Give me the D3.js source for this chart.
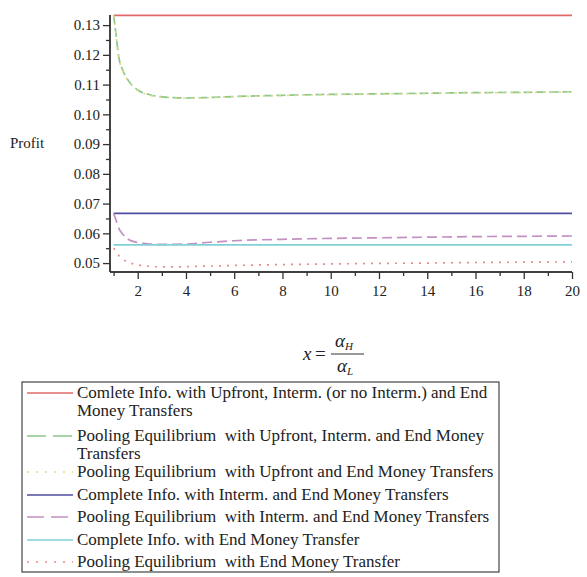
<!DOCTYPE html>
<html>
<head>
<meta charset="utf-8">
<script src="https://cdn.jsdelivr.net/npm/d3@7/dist/d3.min.js"></script>
<style>
  html, body { margin: 0; padding: 0; background: #fff; }
  svg { display: block; }
  text { font-family: "Liberation Serif", "Times New Roman", serif; fill: #222; }
</style>
</head>
<body>
<script>
// ---- data ----
const xs = [1, 1.1, 1.2, 1.4, 1.6, 2, 2.5, 3, 3.5, 4, 5, 6, 8, 10, 12, 14, 16, 18, 20];
const completeUpfrontIntermEnd = [0.1333, 0.1333, 0.1333, 0.1333, 0.1333, 0.1333, 0.1333, 0.1333, 0.1333, 0.1333, 0.1333, 0.1333, 0.1333, 0.1333, 0.1333, 0.1333, 0.1333, 0.1333, 0.1333];
const poolingUpfrontIntermEnd = [0.1333, 0.1270, 0.1200, 0.1145, 0.1115, 0.1082, 0.1066, 0.1059, 0.1056, 0.1055, 0.1057, 0.1060, 0.1064, 0.1067, 0.1069, 0.1071, 0.1073, 0.1074, 0.1076];
const poolingUpfrontEnd = [0.1333, 0.1268, 0.1198, 0.1143, 0.1113, 0.1080, 0.1064, 0.1058, 0.1055, 0.1054, 0.1056, 0.1059, 0.1063, 0.1066, 0.1068, 0.1070, 0.1072, 0.1073, 0.1075];
const completeIntermEnd = [0.0667, 0.0667, 0.0667, 0.0667, 0.0667, 0.0667, 0.0667, 0.0667, 0.0667, 0.0667, 0.0667, 0.0667, 0.0667, 0.0667, 0.0667, 0.0667, 0.0667, 0.0667, 0.0667];
const poolingIntermEnd = [0.0667, 0.0645, 0.0620, 0.0595, 0.0580, 0.0569, 0.0564, 0.0563, 0.0563, 0.0564, 0.0570, 0.0575, 0.0580, 0.0583, 0.0585, 0.0587, 0.0589, 0.0590, 0.0591];
const completeEnd = [0.0561, 0.0561, 0.0561, 0.0561, 0.0561, 0.0561, 0.0561, 0.0561, 0.0561, 0.0561, 0.0561, 0.0561, 0.0561, 0.0561, 0.0561, 0.0561, 0.0561, 0.0561, 0.0561];
const poolingEnd = [0.0550, 0.0540, 0.0527, 0.0512, 0.0503, 0.0494, 0.0489, 0.0487, 0.0487, 0.0488, 0.0490, 0.0492, 0.0495, 0.0497, 0.0499, 0.0500, 0.0502, 0.0503, 0.0504];

const yTicks = [0.05, 0.06, 0.07, 0.08, 0.09, 0.10, 0.11, 0.12, 0.13];
const yTickLabels = ["0.05", "0.06", "0.07", "0.08", "0.09", "0.10", "0.11", "0.12", "0.13"];
const xTicks = [2, 4, 6, 8, 10, 12, 14, 16, 18, 20];
const xMinorTicks = [1, 3, 5, 7, 9, 11, 13, 15, 17, 19];
const yMinorTicks = [0.055, 0.065, 0.075, 0.085, 0.095, 0.105, 0.115, 0.125];

const legendLabels = [
  ["Comlete Info. with Upfront, Interm. (or no Interm.) and End", "Money Transfers"],
  ["Pooling Equilibrium  with Upfront, Interm. and End Money", "Transfers"],
  ["Pooling Equilibrium  with Upfront and End Money Transfers"],
  ["Complete Info. with Interm. and End Money Transfers"],
  ["Pooling Equilibrium  with Interm. and End Money Transfers"],
  ["Complete Info. with End Money Transfer"],
  ["Pooling Equilibrium  with End Money Transfer"]
];

const series = [
  {values: completeUpfrontIntermEnd, color: "#e06a6a", dash: null, legDash: null},
  {values: poolingUpfrontIntermEnd, color: "#8cc88c", dash: "9,4", legDash: "19,7"},
  {values: poolingUpfrontEnd, color: "#e2dc84", dash: "2,6", legDash: "2,7"},
  {values: completeIntermEnd, color: "#4e4ea2", dash: null, legDash: null},
  {values: poolingIntermEnd, color: "#c490c4", dash: "10,5", legDash: "17,7"},
  {values: completeEnd, color: "#80d0d8", dash: null, legDash: null},
  {values: poolingEnd, color: "#e88a8a", dash: "2,6", legDash: "2,7"}
];

// ---- layout ----
const W = 587, H = 577;
const SERIF = '"Liberation Serif", "Times New Roman", serif';
const svg = d3.select("body").append("svg").attr("width", W).attr("height", H);

const x = d3.scaleLinear().domain([0.851, 20]).range([110, 572]);
const y = d3.scaleLinear().domain([0.047, 0.1334]).range([272, 15]);

// lines
const line = d3.line().x((d, i) => x(xs[i])).y(d => y(d)).curve(d3.curveMonotoneX);
series.forEach(s => {
  svg.append("path")
    .attr("d", line(s.values))
    .attr("fill", "none")
    .attr("stroke", s.color)
    .attr("stroke-width", 1.7)
    .attr("stroke-dasharray", s.dash);
});

// axes
const yAxis = d3.axisLeft(y).tickValues(yTicks).tickFormat((d, i) => yTickLabels[i]).tickSize(7).tickPadding(3);
const gy = svg.append("g").attr("transform", "translate(110,0)").call(yAxis);
gy.append("g").call(d3.axisLeft(y).tickValues(yMinorTicks).tickSize(4).tickFormat(""));
const xAxis = d3.axisBottom(x).tickValues(xTicks).tickSize(7).tickPadding(6);
const gx = svg.append("g").attr("transform", "translate(0,272)").call(xAxis);
gx.append("g").call(d3.axisBottom(x).tickValues(xMinorTicks).tickSize(4).tickFormat(""));

[gx, gy].forEach(g => {
  g.attr("font-family", SERIF).attr("font-size", 15);
  g.selectAll(".domain").attr("stroke", "#333").attr("stroke-width", 1.4);
  g.selectAll("line").attr("stroke", "#333").attr("stroke-width", 1.3);
  g.selectAll("text").attr("font-family", SERIF).style("font-family", SERIF).style("font-size", "15px").attr("fill", "#333");
});
gy.selectAll(".domain").attr("d", `M0,${y(0.047)}V${y(0.1334)}`);
gx.selectAll(".domain").attr("d", `M110,0H572`);

// y label
svg.append("text").attr("x", 10).attr("y", 148).style("font-size", "15px").text("Profit");

// x label: x = αH / αL
const xl = svg.append("g");
xl.append("text").attr("x", 303).attr("y", 360).style("font-size", "19px").style("font-style", "italic").text("x");
xl.append("text").attr("x", 315).attr("y", 360).style("font-size", "19px").text("=");
xl.append("line").attr("x1", 331).attr("x2", 364).attr("y1", 354).attr("y2", 354).attr("stroke", "#333").attr("stroke-width", 1);
xl.append("text").attr("x", 335).attr("y", 347).style("font-size", "19px").style("font-style", "italic")
  .text("α").append("tspan").attr("dy", 3).style("font-size", "11px").text("H");
xl.append("text").attr("x", 337).attr("y", 372).style("font-size", "19px").style("font-style", "italic")
  .text("α").append("tspan").attr("dy", 3).style("font-size", "11px").text("L");

// legend
const box = {x: 22, y: 382, w: 477, h: 190};
svg.append("rect").attr("x", box.x).attr("y", box.y).attr("width", box.w).attr("height", box.h)
  .attr("fill", "none").attr("stroke", "#444").attr("stroke-width", 1.2);

const rowY = [393, 436, 472, 495, 517, 540, 562];
legendLabels.forEach((lines, i) => {
  const s = series[i];
  svg.append("line").attr("x1", 27).attr("x2", 73).attr("y1", rowY[i]).attr("y2", rowY[i])
    .attr("stroke", s.color).attr("stroke-width", 1.7).attr("stroke-dasharray", s.legDash);
  lines.forEach((t, j) => {
    svg.append("text").attr("x", 77).attr("y", rowY[i] + 5 + j * 18)
      .style("font-size", "17px").attr("xml:space", "preserve").style("white-space", "pre").text(t);
  });
});
</script>
</body>
</html>
